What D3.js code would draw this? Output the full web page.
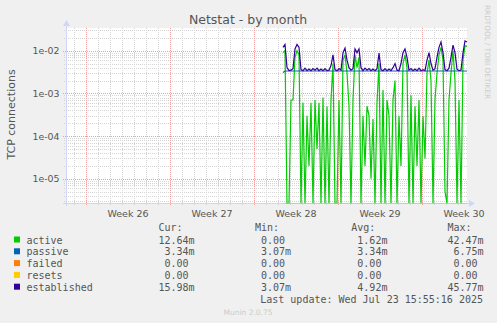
<!DOCTYPE html>
<html><head><meta charset="utf-8">
<script src="https://cdn.jsdelivr.net/npm/d3@7"></script>
<style>
html,body{margin:0;padding:0;background:#F0F0F0;}
svg{display:block;}
</style></head><body>
<svg id="c" width="497" height="323"></svg>
<script>
// ---------- data ----------
const title = "Netstat - by month";
const yLabel = "TCP connections";
const yTickValues = [1e-2, 1e-3, 1e-4, 1e-5];
const yTickLabels = ["1e-02", "1e-03", "1e-04", "1e-05"];
const weekLabels = ["Week 26", "Week 27", "Week 28", "Week 29", "Week 30"];
const weekStarts = ["2025-06-23", "2025-06-30", "2025-07-07", "2025-07-14", "2025-07-21"];
const seriesNames = ["active", "passive", "failed", "resets", "established"];
const seriesColors = ["#00CC00", "#0066B3", "#FF8000", "#FFCC00", "#330099"];
const legendCur = ["12.64m", " 3.34m", " 0.00", " 0.00", "15.98m"];
const legendMin = [" 0.00", " 3.07m", " 0.00", " 0.00", " 3.07m"];
const legendAvg = [" 1.62m", " 3.34m", " 0.00", " 0.00", " 4.92m"];
const legendMax = ["42.47m", " 6.75m", " 0.00", " 0.00", "45.77m"];
const lastUpdate = "Last update: Wed Jul 23 15:55:16 2025";
const footer = "Munin 2.0.75";
const watermark = "RRDTOOL / TOBI OETIKER";

// samples every 4 hours from data start (values in milli-units, 0 = zero)
const dataStart = "2025-07-09T10:00:00Z";
const stepHours = 4;
const established = [12,14,4,3.4,3.5,3.8,11,14,12,3.6,3.4,3.9,3.4,3.7,3.4,3.8,3.5,3.9,3.4,3.7,
  3.4,3.8,3.4,3.5,4.5,8,3.6,3.4,3.8,3.5,9,11.5,6,4,3.5,3.8,11,9,11,4,
  3.4,3.9,3.5,3.8,3.4,3.7,3.4,3.8,8.8,3.6,3.4,3.8,3.4,3.7,3.4,4,5,3.5,3.4,5,
  9,11,7,3.5,3.8,3.4,3.7,3.4,3.9,3.4,3.6,3.4,6,9,5,3.5,3.8,7,12,16,
  9,3.6,3.4,3.9,7,13.5,9,3.7,3.4,3.5,9,17,16];
const active = [9,10,0,0,0.7,0.7,7,10,8,0,0.6,0,0.3,0.02,0.6,0,0.7,0.05,0.6,0,
  0.8,0,0.5,0,0.7,5,0,0,0.7,0,6,8,3,0.5,0,0.7,8,4,7,0,
  0.3,0.02,0.5,0.3,0.01,0.25,0,0.6,5,0,1.2,0,0.7,0.3,0,0.7,2,0,0.3,0.02,
  5,8,4,0,0.9,0,0.5,0.02,0.7,0,0.3,0.03,3,6,2,0,0.7,3,8,12,
  6,0.005,0,0.7,3,10,2,0,0.7,0,6,13,12.64];
// constant series given as [sampleIndex, value]
const passive = [[0, 3.07], [1, 3.34], [92, 3.34]];
const failed = [[0, 0], [92, 0]];
const resets = [[0, 0], [92, 0]];

// ---------- layout ----------
const W = 497, H = 323;
const L = 66, R = 467, T = 28, B = 203;
const svg = d3.select("#c");
const fontSans = "'DejaVu Sans', sans-serif";
const fontMono = "'DejaVu Sans Mono', monospace";
const textCol = "#555555";

const x = d3.scaleUtc()
  .domain([new Date("2025-06-21T08:00:00Z"), new Date("2025-07-24T18:00:00Z")])
  .range([L, R]);
const y = d3.scaleLog().domain([2.7e-6, 3.4e-2]).range([B, T]).clamp(true);

const t0 = new Date(dataStart).getTime();
const timeAt = i => new Date(t0 + i * stepHours * 3600e3);

// canvas
svg.append("rect").attr("x", L).attr("y", T).attr("width", R - L).attr("height", B - T).attr("fill", "#fff");

// grid
const g = svg.append("g").attr("shape-rendering", "crispEdges");
const days = d3.utcDay.range(x.domain()[0], x.domain()[1]);
const weeks = weekStarts.map(s => new Date(s + "T00:00:00Z"));
const isWeek = d => weeks.some(w => +w === +d);
days.filter(d => !isWeek(d)).forEach(d => {
  g.append("line").attr("x1", Math.round(x(d)) + 0.5).attr("x2", Math.round(x(d)) + 0.5)
    .attr("y1", T).attr("y2", B + 2).attr("stroke", "#D4D4D4").attr("stroke-dasharray", "1,1");
});
const minorY = [];
for (let e = -6; e <= -1; e++) for (let k = 2; k <= 9; k++) {
  const v = k * Math.pow(10, e);
  if (v > y.domain()[0] && v < y.domain()[1]) minorY.push(v);
}
minorY.forEach(v => {
  g.append("line").attr("x1", L - 2).attr("x2", R).attr("y1", Math.round(y(v)) + 0.5).attr("y2", Math.round(y(v)) + 0.5)
    .attr("stroke", "#D4D4D4").attr("stroke-dasharray", "1,1");
});
weeks.forEach(d => {
  g.append("line").attr("x1", Math.round(x(d)) + 0.5).attr("x2", Math.round(x(d)) + 0.5)
    .attr("y1", T).attr("y2", B + 3).attr("stroke", "#F0A0A0").attr("stroke-dasharray", "1,1");
});
yTickValues.forEach(v => {
  g.append("line").attr("x1", L - 3).attr("x2", R).attr("y1", Math.round(y(v)) + 0.5).attr("y2", Math.round(y(v)) + 0.5)
    .attr("stroke", "#F0A0A0").attr("stroke-dasharray", "1,1");
});

// axes (drawn before series so the zero lines sit on the axis)
const axisCol = "#CFD6F8";
svg.append("line").attr("x1", L - 3).attr("x2", R + 3).attr("y1", B + 0.5).attr("y2", B + 0.5).attr("stroke", axisCol);
svg.append("line").attr("x1", L + 0.5).attr("x2", L + 0.5).attr("y1", B + 3).attr("y2", T - 3).attr("stroke", axisCol);
svg.append("path").attr("d", `M${R + 2},${B - 3} L${R + 8},${B + 0.5} L${R + 2},${B + 4} Z`).attr("fill", axisCol);
svg.append("path").attr("d", `M${L - 3},${T - 2} L${L + 0.5},${T - 8} L${L + 4},${T - 2} Z`).attr("fill", axisCol);

// series
const plot = svg.append("g");
svg.append("clipPath").attr("id", "clip").append("rect").attr("x", L).attr("y", T - 1).attr("width", R - L + 1).attr("height", B - T + 1.5);
plot.attr("clip-path", "url(#clip)");
const line = d3.line()
  .x(d => x(d.t))
  .y(d => d.v > 0 ? y(d.v * 1e-3) : B + 0.5);
const fromArr = arr => arr.map((v, i) => ({ t: timeAt(i), v }));
const fromPairs = arr => arr.map(([i, v]) => ({ t: timeAt(i), v }));
const seriesData = [fromArr(active), fromPairs(passive), fromPairs(failed), fromPairs(resets), fromArr(established)];
seriesData.forEach((data, k) => {
  const zeroLine = k === 2 || k === 3;
  plot.append("path").attr("d", line(data)).attr("fill", "none")
    .attr("stroke", seriesColors[k]).attr("stroke-width", zeroLine ? 1 : 1.2)
    .attr("stroke-opacity", zeroLine ? 0.45 : 1).attr("stroke-linejoin", "miter");
});

// y tick labels
yTickValues.forEach((v, i) => {
  svg.append("text").attr("x", 59.5).attr("y", y(v) + 3.5).attr("text-anchor", "end")
    .attr("font-family", fontSans).attr("font-size", 9.4).attr("fill", textCol).text(yTickLabels[i]);
});
// x labels at week centres
weeks.forEach((d, i) => {
  const c = d3.utcHour.offset(d, 84);
  svg.append("text").attr("x", x(c)).attr("y", 216.5).attr("text-anchor", "middle")
    .attr("font-family", fontSans).attr("font-size", 9.5).attr("fill", textCol).text(weekLabels[i]);
});

// title, y label, watermark
svg.append("text").attr("x", 248).attr("y", 23.5).attr("text-anchor", "middle")
  .attr("font-family", fontSans).attr("font-size", 12.5).attr("fill", textCol).text(title);
svg.append("text").attr("transform", "translate(15,114.5) rotate(-90)").attr("text-anchor", "middle")
  .attr("font-family", fontSans).attr("font-size", 11).attr("fill", textCol).text(yLabel);
svg.append("text").attr("transform", "translate(485,5) rotate(90)").attr("text-anchor", "start")
  .attr("font-family", fontSans).attr("font-size", 7.3).attr("fill", "#CCCCCC").text(watermark);

// legend
const lf = 10;
const colX = [158.5, 255, 351.3, 447.5];
const headers = ["Cur:", "Min:", "Avg:", "Max:"];
headers.forEach((h, i) => {
  svg.append("text").attr("x", colX[i]).attr("y", 230.5).attr("font-family", fontMono)
    .attr("font-size", lf).attr("fill", textCol).style("white-space", "pre").text(h);
});
const cols = [legendCur, legendMin, legendAvg, legendMax];
seriesNames.forEach((n, k) => {
  const yy = 243.5 + k * 11.8;
  svg.append("rect").attr("x", 14).attr("y", yy - 7).attr("width", 6).attr("height", 6).attr("fill", seriesColors[k]);
  svg.append("text").attr("x", 26.5).attr("y", yy).attr("font-family", fontMono)
    .attr("font-size", lf).attr("fill", textCol).text(n);
  cols.forEach((c, i) => {
    svg.append("text").attr("x", colX[i]).attr("y", yy).attr("font-family", fontMono)
      .attr("font-size", lf).attr("fill", textCol).style("white-space", "pre").text(c[k]);
  });
});
svg.append("text").attr("x", 483).attr("y", 302.5).attr("text-anchor", "end").attr("font-family", fontMono)
  .attr("font-size", lf).attr("fill", textCol).text(lastUpdate);
svg.append("text").attr("x", 248).attr("y", 315).attr("text-anchor", "middle").attr("font-family", fontSans)
  .attr("font-size", 7.5).attr("fill", "#CCCCCC").text(footer);
</script>
</body></html>
